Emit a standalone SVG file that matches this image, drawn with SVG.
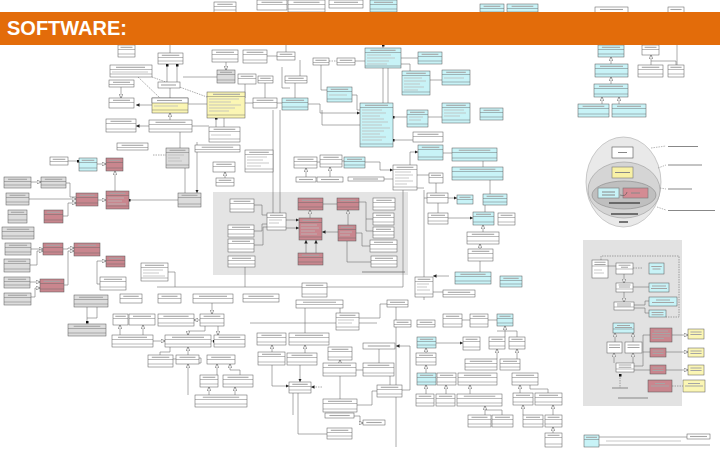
<svg xmlns="http://www.w3.org/2000/svg" width="720" height="450" viewBox="0 0 720 450">
<style>
.w{fill:#fff;stroke:#555;stroke-width:.5}
.c{fill:#c8f3f7;stroke:#555;stroke-width:.5}
.p{fill:#c9868e;stroke:#555;stroke-width:.5}
.y{fill:#fbf6b4;stroke:#555;stroke-width:.5}
.g{fill:#dcdcdc;stroke:#555;stroke-width:.5}
.h{fill:none;stroke:#666;stroke-width:.45}
.t{fill:none;stroke:#a5a5a5;stroke-width:1.1}
.r{fill:none;stroke:#bbb;stroke-width:.8}
#conn path{fill:none;stroke:#666;stroke-width:.55}
#conn .ds{stroke-dasharray:1.5 1}
.lead{fill:none;stroke:#888;stroke-width:.6;stroke-dasharray:1.5 1}
.lbl{fill:none;stroke:#888;stroke-width:1}
.dk{fill:none;stroke:#444;stroke-width:1.4}
</style>
<defs>
<marker id="tri" viewBox="0 0 6 6" refX="6" refY="3" markerWidth="4" markerHeight="4" orient="auto" markerUnits="userSpaceOnUse"><path d="M0 0L6 3L0 6z" fill="#fff" stroke="#555" stroke-width=".8"/></marker>
<marker id="dia" viewBox="0 0 6 6" refX="3" refY="3" markerWidth="3" markerHeight="3" orient="auto" markerUnits="userSpaceOnUse"><path d="M0 0H6V6H0z" fill="#111"/></marker>
<marker id="arr" viewBox="0 0 6 6" refX="6" refY="3" markerWidth="3.5" markerHeight="3.5" orient="auto" markerUnits="userSpaceOnUse"><path d="M0 0L6 3L0 6z" fill="#222"/></marker>
</defs>
<rect width="720" height="450" fill="#fff"/>

<!-- package backgrounds -->
<rect id="pkgCore" x="213" y="192" width="195" height="83" fill="#e4e4e4"/>
<path class="lbl" d="M362 272H405"/>
<rect id="pkgRight" x="583" y="240" width="99" height="166" fill="#e2e2e2"/>
<path class="lbl" d="M618 398H648"/>

<!-- layered circle -->
<g id="layers">
<ellipse cx="623.5" cy="182" rx="37.5" ry="45" fill="#e9e9e9" stroke="#aaa" stroke-width=".6"/>
<ellipse cx="624" cy="190" rx="36" ry="28" fill="#d5d5d5" stroke="#999" stroke-width=".6"/>
<ellipse cx="624" cy="195" rx="32" ry="14" fill="#bfbfbf" stroke="#888" stroke-width=".6"/>
<rect x="612" y="147" width="21" height="11" fill="#fff" stroke="#555" stroke-width=".6"/>
<path class="lbl" d="M618 152.5h9"/>
<rect x="612" y="167" width="21" height="11" fill="#f8f1a6" stroke="#777" stroke-width=".6"/>
<path class="lbl" d="M615 172.5h15"/>
<rect x="598" y="188" width="21" height="10" fill="#c8f3f7" stroke="#777" stroke-width=".6"/>
<path class="lbl" d="M602 192h13M602 195h13"/>
<rect x="623" y="188" width="25" height="10" fill="#d48b93" stroke="#777" stroke-width=".6"/>
<path class="lbl" d="M631 193h9"/>
<path fill="none" stroke="#555" stroke-width=".6" d="M627 192Q626 197 620 195"/>
<path class="dk" d="M609 203h31"/>
<path class="dk" d="M611 214h27"/>
<path class="dk" d="M619 222h9"/>
<path class="lead" d="M651 148L666 146M658 168L666 165M660 188L666 189M657 207L666 210"/>
<path class="lbl" d="M668 146.5h30M668 165h34M668 189h24M668 210.5h47"/>
</g>

<!-- connectors -->
<g id="conn">
<path d="M167 65V82" marker-start="url(#dia)"/>
<path d="M177 65V82" marker-start="url(#dia)"/>
<path d="M170 88V98"/>
<path d="M183 77H217"/>
<path d="M226 62V70" marker-end="url(#tri)"/>
<path class="ds" d="M152 77L207 97"/>
<path class="ds" d="M138 77L160 98"/>
<path d="M121 87V98" marker-end="url(#tri)"/>
<path d="M152 105H136" marker-end="url(#arr)"/>
<path d="M149 126H136" marker-end="url(#arr)"/>
<path d="M188 104H207"/>
<path d="M170 120V113" marker-end="url(#tri)"/>
<path d="M216 118V127" marker-start="url(#dia)"/>
<path d="M224 118V127"/>
<path d="M240 103H253"/>
<path d="M192 126H209"/>
<path d="M180 132V148"/>
<path d="M197 142V193" marker-end="url(#arr)"/>
<path d="M170 53V45"/>
<path d="M286 52V45"/>
<path d="M383 48V45" marker-end="url(#dia)"/>
<path d="M267 56H277"/>
<path d="M300 60V76"/>
<path class="ds" d="M329 61H337"/>
<path d="M355 61H365"/>
<path d="M401 58H418"/>
<path d="M401 64H410V71"/>
<path d="M383 68V103"/>
<path d="M388 68V103"/>
<path d="M430 80H442"/>
<path d="M352 95H357V110H360"/>
<path d="M308 104H320V113H360" marker-end="url(#arr)"/>
<path d="M277 103H282"/>
<path d="M393 117H407" marker-start="url(#dia)"/>
<path d="M428 117H442"/>
<path d="M393 140H413" marker-start="url(#dia)"/>
<path d="M245 84V98"/>
<path d="M265 83V98"/>
<path d="M295 83V98"/>
<path d="M321 65V90H327"/>
<path d="M282 67V88H290"/>
<path d="M322 110V125H360"/>
<path d="M273 110V213"/>
<path d="M280 110V213"/>
<path d="M611 64V57" marker-end="url(#tri)"/>
<path d="M611 84V77" marker-end="url(#tri)"/>
<path d="M602 104V97" marker-end="url(#tri)"/>
<path d="M619 104V97" marker-end="url(#tri)"/>
<path d="M651 65V55" marker-end="url(#tri)"/>
<path d="M651 61H676V65"/>
<path d="M677 10V65"/>
<path d="M68 161H78" marker-end="url(#dia)"/>
<path d="M97 164H106" marker-end="url(#tri)"/>
<path d="M115 191V171" marker-end="url(#tri)"/>
<path d="M31 182H41" marker-end="url(#tri)"/>
<path d="M66 183H70V197H76"/>
<path d="M29 199H76" marker-end="url(#tri)"/>
<path d="M63 216H68V203H76" marker-end="url(#tri)"/>
<path d="M98 200H106" marker-end="url(#tri)"/>
<path d="M178 200H129" marker-end="url(#dia)"/>
<path d="M185 168V193"/>
<path d="M225 178V172" marker-end="url(#tri)"/>
<path class="ds" d="M153 155H166"/>
<path d="M31 249H43" marker-end="url(#tri)"/>
<path d="M30 265H37V251H43" marker-end="url(#tri)"/>
<path d="M63 249H68V248H74" marker-end="url(#tri)"/>
<path d="M64 285H68V251H74" marker-end="url(#tri)"/>
<path d="M30 282H40" marker-end="url(#tri)"/>
<path d="M31 297H35V288H40" marker-end="url(#tri)"/>
<path d="M100 284H97V261H106" marker-end="url(#tri)"/>
<path d="M168 272H175V287"/>
<path d="M157 287H403V190"/>
<path d="M254 205H262V215H267"/>
<path d="M286 220H299" marker-end="url(#arr)"/>
<path d="M286 228H299" marker-end="url(#arr)"/>
<path d="M310 218V210" marker-end="url(#tri)"/>
<path d="M323 204H337"/>
<path d="M348 225V210" marker-end="url(#tri)"/>
<path d="M338 232H322" marker-end="url(#arr)"/>
<path d="M306 253V240" marker-end="url(#arr)"/>
<path d="M316 253V240" marker-end="url(#arr)"/>
<path d="M359 202H366V231H373"/>
<path d="M366 219H373"/>
<path d="M356 233H362V246H370"/>
<path d="M347 241V262H371"/>
<path d="M254 231H262V224H267"/>
<path d="M254 245H263V227H267"/>
<path d="M245 267V287"/>
<path d="M417 175H429"/>
<path d="M436 183V193"/>
<path d="M448 198H457" marker-end="url(#arr)"/>
<path d="M438 203V213"/>
<path d="M424 190V300"/>
<path d="M365 162H380V170H393" marker-end="url(#arr)"/>
<path d="M342 161H344M317 162H320"/>
<path d="M306 177V168" marker-end="url(#tri)"/>
<path d="M330 177V167" marker-end="url(#tri)"/>
<path d="M384 179H393"/>
<path d="M449 276H433" marker-end="url(#arr)"/>
<path d="M433 292H443"/>
<path d="M410 165V152H418" marker-end="url(#arr)"/>
<path d="M417 188H424"/>
<path d="M443 153H452"/>
<path d="M483 161V167"/>
<path d="M490 180V194"/>
<path d="M485 205V212"/>
<path d="M448 218H473" marker-end="url(#arr)"/>
<path d="M483 232V225" marker-end="url(#tri)"/>
<path d="M480 249V244" marker-end="url(#tri)"/>
<path d="M480 261V272"/>
<path d="M427 198H424"/>
<path d="M87 307V322" marker-end="url(#dia)"/>
<path d="M97 307V318H87"/>
<path d="M120 335V325" marker-end="url(#tri)"/>
<path d="M143 335V325" marker-end="url(#tri)"/>
<path d="M153 341H165" marker-end="url(#tri)"/>
<path d="M211 341H214" marker-end="url(#dia)"/>
<path d="M212 303V314" marker-end="url(#tri)"/>
<path d="M200 320H194" marker-end="url(#tri)"/>
<path d="M205 326V331H188V335" marker-end="url(#tri)"/>
<path d="M218 326V335" marker-end="url(#tri)"/>
<path d="M188 355V347" marker-end="url(#tri)"/>
<path d="M170 347V352H160V355"/>
<path d="M217 375V364" marker-end="url(#tri)"/>
<path d="M240 375V370H230V364" marker-end="url(#tri)"/>
<path d="M188 395V364" marker-end="url(#tri)"/>
<path d="M209 395V387" marker-end="url(#tri)"/>
<path d="M235 395V387" marker-end="url(#tri)"/>
<path d="M199 358H201V363H199"/>
<path d="M176 359H173"/>
<path d="M250 323H377"/>
<path d="M305 308V333"/>
<path d="M340 308V313"/>
<path d="M272 352V345" marker-end="url(#tri)"/>
<path d="M305 353V345" marker-end="url(#tri)"/>
<path d="M272 365V386H289" marker-end="url(#arr)"/>
<path d="M300 365V382" marker-end="url(#arr)"/>
<path class="ds" d="M322 387H311" marker-end="url(#arr)"/>
<path d="M293 393V415"/>
<path d="M298 393V434H327"/>
<path d="M340 363V360" marker-end="url(#tri)"/>
<path d="M356 370H363"/>
<path d="M340 376V399"/>
<path d="M357 405H372V391H377"/>
<path d="M390 376V385"/>
<path d="M402 390H410V346H396" marker-end="url(#arr)"/>
<path d="M354 416H360V423H363" marker-end="url(#tri)"/>
<path d="M379 349V363"/>
<path d="M426 353V348" marker-end="url(#tri)"/>
<path d="M426 373V365" marker-end="url(#tri)"/>
<path d="M436 343H463" marker-end="url(#arr)"/>
<path d="M426 394V385" marker-end="url(#tri)"/>
<path d="M446 394V385" marker-end="url(#tri)"/>
<path d="M470 394V385" marker-end="url(#tri)"/>
<path d="M505 337V326" marker-end="url(#tri)"/>
<path d="M497 331H517V337"/>
<path d="M497 359V349" marker-end="url(#tri)"/>
<path d="M517 359V349" marker-end="url(#tri)"/>
<path d="M520 393V385" marker-end="url(#tri)"/>
<path d="M548 393V389H530V385"/>
<path d="M485 415V406" marker-end="url(#tri)"/>
<path d="M502 415V410H485"/>
<path d="M523 415V405" marker-end="url(#tri)"/>
<path d="M553 415V405" marker-end="url(#tri)"/>
<path d="M553 433V427" marker-end="url(#tri)"/>
<path d="M462 320H470"/>
<path d="M488 320H497"/>
<path d="M396 300V447"/>
<path d="M359 318H380V304H387"/>
<path d="M599 437H687M599 445H710"/>
<path class="ds" d="M601 260V256H679V317H666"/>
<path d="M608 266H616"/>
<path d="M624 274V283" marker-end="url(#tri)"/>
<path d="M624 292V302" marker-end="url(#tri)"/>
<path class="ds" d="M633 268H643"/>
<path d="M633 287H649"/>
<path d="M634 305H645V301H649"/>
<path d="M634 308H645V313H649"/>
<path d="M615 342V333" marker-end="url(#tri)"/>
<path d="M633 342V333" marker-end="url(#tri)"/>
<path d="M614 363V353" marker-end="url(#tri)"/>
<path d="M633 363V353" marker-end="url(#tri)"/>
<path d="M634 366H643V335H650"/>
<path d="M643 352H650"/>
<path d="M634 370H650"/>
<path d="M672 335H688" marker-end="url(#tri)"/>
<path d="M666 352H688" marker-end="url(#tri)"/>
<path d="M666 370H688" marker-end="url(#tri)"/>
<path class="ds" d="M672 386H683"/>
<path class="ds" d="M620 375V388" marker-start="url(#dia)"/>
</g>

<!-- class boxes -->
<g id="n1"><rect class="w" x="214" y="2" width="22" height="11"/><path class="h" d="M214 6.5h22M214 10h22"/><path class="t" d="M217.3 4.3h15.4"/></g>
<g id="n2"><rect class="w" x="257" y="0" width="30" height="10"/><path class="h" d="M257 4.5h30"/><path class="t" d="M261.5 2.3h21"/></g>
<g id="n3"><rect class="w" x="288" y="0" width="37" height="12"/><path class="h" d="M288 4.5h37M288 9h37"/><path class="t" d="M293.5 2.3h26"/></g>
<g id="n4"><rect class="w" x="329" y="0" width="34" height="8"/><path class="h" d="M329 4.5h34"/><path class="t" d="M334 2.3h24"/></g>
<g id="n5"><rect class="c" x="370" y="0" width="27" height="12"/><path class="h" d="M370 4.5h27M370 9h27"/><path class="t" d="M374 2.3h19"/></g>
<g id="n6"><rect class="c" x="480" y="4" width="24" height="8"/><path class="h" d="M480 8.5h24"/><path class="t" d="M483.6 6.3h16.8"/></g>
<g id="n7"><rect class="c" x="507" y="4" width="31" height="8"/><path class="h" d="M507 8.5h31"/><path class="t" d="M511.6 6.3h21.7"/></g>
<g id="n8"><rect class="w" x="595" y="7" width="33" height="7"/><path class="t" d="M600 9.5h23"/></g>
<g id="n9"><rect class="w" x="668" y="7" width="16" height="7"/><path class="t" d="M670.4 9.5h11.2"/></g>
<g id="n10"><rect class="w" x="118" y="45" width="17" height="12"/><path class="h" d="M118 49.5h17M118 54h17"/><path class="t" d="M120.5 47.3h12"/></g>
<g id="n11"><rect class="w" x="158" y="53" width="25" height="11"/><path class="h" d="M158 57.5h25M158 61h25"/><path class="t" d="M161.8 55.3h17.5"/></g>
<g id="n12"><rect class="w" x="212" y="50" width="26" height="12"/><path class="h" d="M212 54.5h26M212 59h26"/><path class="t" d="M216 52.3h18"/></g>
<g id="n13"><rect class="w" x="110" y="65" width="42" height="12"/><path class="h" d="M110 69.5h42M110 74h42"/><path class="t" d="M116 67.3h29"/><path class="r" d="M112 72h36"/></g>
<g id="n14"><rect class="g" x="217" y="70" width="18" height="13"/><path class="h" d="M217 74.5h18M217 80h18"/><path class="t" d="M220 72.3h12"/></g>
<g id="n15"><rect class="w" x="158" y="82" width="22" height="6"/><path class="t" d="M161 85h15"/></g>
<g id="n16"><rect class="w" x="109" y="80" width="25" height="7"/><path class="h" d="M109 84.5h25"/><path class="t" d="M113 82.3h17"/></g>
<g id="n17"><rect class="w" x="109" y="98" width="25" height="10"/><path class="h" d="M109 102.5h25"/><path class="t" d="M113 100.3h17"/></g>
<g id="n18"><rect class="y" x="152" y="98" width="36" height="15"/><rect class="w" x="152" y="98" width="36" height="5"/><path class="h" d="M152 110h36"/><path class="t" d="M157 100.5h25"/><path class="r" d="M154 106h24"/></g>
<g id="n19"><rect class="y" x="207" y="92" width="38" height="26"/><path class="h" d="M207 96.5h38M207 115h38"/><path class="t" d="M213 94.3h27"/><path class="r" d="M209 99h30M209 102h22M209 105h32M209 108h26M209 111h20"/></g>
<g id="n20"><rect class="w" x="106" y="119" width="30" height="13"/><path class="h" d="M106 123.5h30M106 129h30"/><path class="t" d="M110.5 121.3h21"/></g>
<g id="n21"><rect class="w" x="149" y="120" width="43" height="12"/><path class="h" d="M149 124.5h43M149 129h43"/><path class="t" d="M155.5 122.3h30"/></g>
<g id="n22"><rect class="w" x="209" y="127" width="31" height="15"/><path class="h" d="M209 131.5h31M209 139h31"/><path class="t" d="M213.6 129.3h21.7"/><path class="r" d="M211 135h20"/></g>
<g id="n23"><rect class="w" x="117" y="143" width="31" height="7"/><path class="h" d="M117 147.5h31"/><path class="t" d="M121.6 145.3h21.7"/></g>
<g id="n24"><rect class="w" x="195" y="145" width="45" height="7"/><path class="h" d="M195 149.5h45"/><path class="t" d="M201.7 147.3h31.5"/></g>
<g id="n25"><rect class="w" x="243" y="50" width="24" height="13"/><path class="h" d="M243 54.5h24M243 60h24"/><path class="t" d="M246.6 52.3h16.8"/></g>
<g id="n26"><rect class="w" x="277" y="52" width="18" height="8"/><path class="h" d="M277 56.5h18"/><path class="t" d="M279.7 54.3h12.6"/></g>
<g id="n27"><rect class="w" x="313" y="58" width="16" height="7"/><path class="h" d="M313 62.5h16"/><path class="t" d="M315.4 60.3h11.2"/></g>
<g id="n28"><rect class="w" x="337" y="58" width="18" height="7"/><path class="h" d="M337 62.5h18"/><path class="t" d="M339.7 60.3h12.6"/></g>
<g id="n29"><rect class="c" x="365" y="48" width="36" height="20"/><path class="h" d="M365 52.5h36M365 66h36"/><path class="t" d="M370.4 50.3h25.2"/><path class="r" d="M367 55h24M367 58h28M367 61h22M367 64h20"/></g>
<g id="n30"><rect class="c" x="418" y="52" width="24" height="12"/><path class="h" d="M418 56.5h24M418 61h24"/><path class="t" d="M421.6 54.3h16.8"/></g>
<g id="n31"><rect class="w" x="238" y="74" width="18" height="10"/><path class="h" d="M238 78.5h18"/><path class="t" d="M240.7 76.3h12.6"/></g>
<g id="n32"><rect class="w" x="258" y="76" width="15" height="7"/><path class="h" d="M258 80.5h15"/><path class="t" d="M260.2 78.3h10.5"/></g>
<g id="n33"><rect class="w" x="285" y="76" width="22" height="7"/><path class="h" d="M285 80.5h22"/><path class="t" d="M288.3 78.3h15.4"/></g>
<g id="n34"><rect class="c" x="402" y="71" width="28" height="24"/><path class="h" d="M402 75.5h28M402 92h28"/><path class="t" d="M406.2 73.3h19.6"/><path class="r" d="M404 78h18M404 81h22M404 84h16M404 87h20M404 90h14"/></g>
<g id="n35"><rect class="c" x="442" y="70" width="28" height="15"/><path class="h" d="M442 74.5h28M442 82h28"/><path class="t" d="M446.2 72.3h19.6"/><path class="r" d="M444 78h20"/></g>
<g id="n36"><rect class="c" x="327" y="87" width="25" height="15"/><path class="h" d="M327 91.5h25M327 99h25"/><path class="t" d="M330.7 89.3h17.5"/><path class="r" d="M329 95h18"/></g>
<g id="n37"><rect class="w" x="253" y="98" width="24" height="10"/><path class="h" d="M253 102.5h24"/><path class="t" d="M256.6 100.3h16.8"/></g>
<g id="n38"><rect class="c" x="282" y="98" width="26" height="12"/><path class="h" d="M282 102.5h26M282 107h26"/><path class="t" d="M285.9 100.3h18.2"/></g>
<g id="n39"><rect class="c" x="360" y="103" width="33" height="44"/><path class="h" d="M360 107.5h33M360 144h33"/><path class="t" d="M365 105.3h23"/><path class="r" d="M362 110h20M362 113h24M362 116h18M362 119h22M362 122h26M362 125h20M362 128h28M362 131h22M362 134h18M362 137h24M362 140h20"/></g>
<g id="n40"><rect class="c" x="407" y="110" width="21" height="17"/><path class="h" d="M407 114.5h21M407 124h21"/><path class="t" d="M410 112.3h14.7"/><path class="r" d="M409 117h14M409 120h12"/></g>
<g id="n41"><rect class="c" x="442" y="103" width="28" height="20"/><path class="h" d="M442 107.5h28M442 120h28"/><path class="t" d="M446.2 105.3h19.6"/><path class="r" d="M444 110h20M444 113h22M444 116h16"/></g>
<g id="n42"><rect class="w" x="413" y="132" width="30" height="10"/><path class="h" d="M413 136.5h30"/><path class="t" d="M417.5 134.3h21"/></g>
<g id="n43"><rect class="c" x="418" y="145" width="25" height="15"/><path class="h" d="M418 149.5h25M418 157h25"/><path class="t" d="M421.8 147.3h17.5"/></g>
<g id="n44"><rect class="c" x="452" y="148" width="45" height="13"/><path class="h" d="M452 152.5h45M452 158h45"/><path class="t" d="M458.8 150.3h31.5"/></g>
<g id="n45"><rect class="c" x="452" y="167" width="51" height="13"/><path class="h" d="M452 171.5h51M452 177h51"/><path class="t" d="M459.7 169.3h35.7"/></g>
<g id="n46"><rect class="c" x="598" y="45" width="26" height="12"/><path class="h" d="M598 49.5h26M598 54h26"/><path class="t" d="M601.9 47.3h18.2"/></g>
<g id="n47"><rect class="w" x="642" y="45" width="17" height="10"/><path class="h" d="M642 49.5h17"/><path class="t" d="M644.6 47.3h11.9"/></g>
<g id="n48"><rect class="c" x="595" y="64" width="33" height="13"/><path class="h" d="M595 68.5h33M595 74h33"/><path class="t" d="M600 66.3h23"/></g>
<g id="n49"><rect class="w" x="638" y="65" width="25" height="12"/><path class="h" d="M638 69.5h25M638 74h25"/><path class="t" d="M641.8 67.3h17.5"/></g>
<g id="n50"><rect class="w" x="668" y="65" width="16" height="12"/><path class="h" d="M668 69.5h16M668 74h16"/><path class="t" d="M670.4 67.3h11.2"/></g>
<g id="n51"><rect class="c" x="594" y="84" width="34" height="13"/><path class="h" d="M594 88.5h34M594 94h34"/><path class="t" d="M599 86.3h24"/></g>
<g id="n52"><rect class="c" x="578" y="104" width="31" height="13"/><path class="h" d="M578 108.5h31M578 114h31"/><path class="t" d="M582.6 106.3h21.7"/></g>
<g id="n53"><rect class="c" x="612" y="104" width="34" height="13"/><path class="h" d="M612 108.5h34M612 114h34"/><path class="t" d="M617 106.3h24"/></g>
<g id="n54"><rect class="c" x="480" y="108" width="23" height="12"/><path class="h" d="M480 112.5h23M480 117h23"/><path class="t" d="M483.5 110.3h16"/></g>
<g id="n55"><rect class="w" x="50" y="157" width="18" height="8"/><path class="h" d="M50 161.5h18"/><path class="t" d="M52.7 159.3h12.6"/></g>
<g id="n56"><rect class="c" x="79" y="158" width="18" height="13"/><path class="h" d="M79 162.5h18M79 168h18"/><path class="t" d="M81.7 160.3h12.6"/></g>
<g id="n57"><rect class="p" x="106" y="158" width="17" height="13"/><path class="h" d="M106 162.5h17M106 168h17"/><path class="t" d="M108.6 160.3h11.9"/></g>
<g id="n58"><rect class="g" x="166" y="148" width="23" height="20"/><path class="h" d="M166 152.5h23M166 165h23"/><path class="t" d="M169.5 150.3h16"/><path class="r" d="M168 155h16M168 158h12M168 161h14"/></g>
<g id="n59"><rect class="w" x="213" y="162" width="22" height="10"/><path class="h" d="M213 166.5h22"/><path class="t" d="M216.3 164.3h15.4"/></g>
<g id="n60"><rect class="w" x="216" y="178" width="18" height="8"/><path class="h" d="M216 182.5h18"/><path class="t" d="M218.7 180.3h12.6"/></g>
<g id="n61"><rect class="g" x="4" y="177" width="27" height="11"/><path class="h" d="M4 181.5h27M4 185h27"/><path class="t" d="M8 179.3h19"/></g>
<g id="n62"><rect class="g" x="41" y="177" width="25" height="11"/><path class="h" d="M41 181.5h25M41 185h25"/><path class="t" d="M44.8 179.3h17.5"/></g>
<g id="n63"><rect class="g" x="6" y="193" width="23" height="12"/><path class="h" d="M6 197.5h23M6 202h23"/><path class="t" d="M9.5 195.3h16"/></g>
<g id="n64"><rect class="p" x="76" y="193" width="22" height="13"/><path class="h" d="M76 197.5h22M76 203h22"/><path class="t" d="M79.3 195.3h15.4"/></g>
<g id="n65"><rect class="p" x="106" y="191" width="23" height="18"/><path class="h" d="M106 195.5h23M106 206h23"/><path class="t" d="M109.5 193.3h16"/><path class="r" d="M108 198h16M108 201h14M108 204h18"/></g>
<g id="n66"><rect class="g" x="178" y="193" width="23" height="14"/><path class="h" d="M178 197.5h23M178 204h23"/><path class="t" d="M181.5 195.3h16"/></g>
<g id="n67"><rect class="g" x="8" y="210" width="19" height="13"/><path class="h" d="M8 214.5h19M8 220h19"/><path class="t" d="M10.9 212.3h13.3"/></g>
<g id="n68"><rect class="p" x="44" y="210" width="19" height="13"/><path class="h" d="M44 214.5h19M44 220h19"/><path class="t" d="M46.9 212.3h13.3"/></g>
<g id="n69"><rect class="g" x="2" y="227" width="32" height="12"/><path class="h" d="M2 231.5h32M2 236h32"/><path class="t" d="M6.8 229.3h22.4"/></g>
<g id="n70"><rect class="g" x="5" y="243" width="26" height="12"/><path class="h" d="M5 247.5h26M5 252h26"/><path class="t" d="M8.9 245.3h18.2"/></g>
<g id="n71"><rect class="p" x="43" y="243" width="20" height="12"/><path class="h" d="M43 247.5h20M43 252h20"/><path class="t" d="M46 245.3h14"/></g>
<g id="n72"><rect class="p" x="74" y="243" width="26" height="13"/><path class="h" d="M74 247.5h26M74 253h26"/><path class="t" d="M77.9 245.3h18.2"/></g>
<g id="n73"><rect class="g" x="4" y="259" width="26" height="13"/><path class="h" d="M4 263.5h26M4 269h26"/><path class="t" d="M7.9 261.3h18.2"/></g>
<g id="n74"><rect class="p" x="106" y="256" width="19" height="11"/><path class="h" d="M106 260.5h19M106 264h19"/><path class="t" d="M108.9 258.3h13.3"/></g>
<g id="n75"><rect class="w" x="141" y="263" width="27" height="18"/><path class="h" d="M141 267.5h27M141 278h27"/><path class="t" d="M145 265.3h19"/><path class="r" d="M143 270h20M143 273h16M143 276h22"/></g>
<g id="n76"><rect class="w" x="100" y="277" width="26" height="13"/><path class="h" d="M100 281.5h26M100 287h26"/><path class="t" d="M103.9 279.3h18.2"/></g>
<g id="n77"><rect class="g" x="4" y="277" width="26" height="11"/><path class="h" d="M4 281.5h26M4 285h26"/><path class="t" d="M7.9 279.3h18.2"/></g>
<g id="n78"><rect class="p" x="40" y="279" width="24" height="13"/><path class="h" d="M40 283.5h24M40 289h24"/><path class="t" d="M43.6 281.3h16.8"/></g>
<g id="n79"><rect class="g" x="4" y="293" width="27" height="12"/><path class="h" d="M4 297.5h27M4 302h27"/><path class="t" d="M8 295.3h19"/></g>
<g id="n80"><rect class="g" x="74" y="295" width="34" height="12"/><path class="h" d="M74 299.5h34M74 304h34"/><path class="t" d="M79 297.3h24"/></g>
<g id="n81"><rect class="w" x="120" y="294" width="22" height="9"/><path class="h" d="M120 298.5h22"/><path class="t" d="M123.3 296.3h15.4"/></g>
<g id="n82"><rect class="w" x="158" y="294" width="23" height="9"/><path class="h" d="M158 298.5h23"/><path class="t" d="M161.5 296.3h16"/></g>
<g id="n83"><rect class="w" x="193" y="294" width="40" height="9"/><path class="h" d="M193 298.5h40"/><path class="t" d="M199 296.3h28"/></g>
<g id="n84"><rect class="w" x="230" y="199" width="24" height="13"/><path class="h" d="M230 203.5h24M230 209h24"/><path class="t" d="M233.6 201.3h16.8"/></g>
<g id="n85"><rect class="w" x="267" y="213" width="19" height="17"/><path class="h" d="M267 217.5h19M267 227h19"/><path class="t" d="M269.9 215.3h13.3"/><path class="r" d="M269 220h13M269 223h10"/></g>
<g id="n86"><rect class="p" x="298" y="198" width="25" height="12"/><path class="h" d="M298 202.5h25M298 207h25"/><path class="t" d="M301.8 200.3h17.5"/></g>
<g id="n87"><rect class="p" x="299" y="218" width="23" height="22"/><path class="h" d="M299 222.5h23M299 237h23"/><path class="t" d="M302.5 220.3h16"/><path class="r" d="M301 225h16M301 228h18M301 231h14M301 234h16"/></g>
<g id="n88"><rect class="p" x="337" y="198" width="22" height="12"/><path class="h" d="M337 202.5h22M337 207h22"/><path class="t" d="M340.3 200.3h15.4"/></g>
<g id="n89"><rect class="p" x="338" y="225" width="18" height="16"/><path class="h" d="M338 229.5h18M338 238h18"/><path class="t" d="M340.7 227.3h12.6"/><path class="r" d="M340 232h12M340 235h10"/></g>
<g id="n90"><rect class="p" x="298" y="253" width="25" height="12"/><path class="h" d="M298 257.5h25M298 262h25"/><path class="t" d="M301.8 255.3h17.5"/></g>
<g id="n91"><rect class="w" x="373" y="198" width="22" height="12"/><path class="h" d="M373 202.5h22M373 207h22"/><path class="t" d="M376.3 200.3h15.4"/></g>
<g id="n92"><rect class="w" x="373" y="213" width="21" height="12"/><path class="h" d="M373 217.5h21M373 222h21"/><path class="t" d="M376 215.3h15"/></g>
<g id="n93"><rect class="w" x="373" y="227" width="21" height="11"/><path class="h" d="M373 231.5h21M373 235h21"/><path class="t" d="M376 229.3h15"/></g>
<g id="n94"><rect class="w" x="370" y="240" width="27" height="12"/><path class="h" d="M370 244.5h27M370 249h27"/><path class="t" d="M374 242.3h19"/></g>
<g id="n95"><rect class="w" x="371" y="256" width="26" height="11"/><path class="h" d="M371 260.5h26M371 264h26"/><path class="t" d="M375 258.3h18"/></g>
<g id="n96"><rect class="w" x="228" y="225" width="26" height="12"/><path class="h" d="M228 229.5h26M228 234h26"/><path class="t" d="M232 227.3h18"/></g>
<g id="n97"><rect class="w" x="228" y="239" width="26" height="13"/><path class="h" d="M228 243.5h26M228 249h26"/><path class="t" d="M232 241.3h18"/></g>
<g id="n98"><rect class="w" x="228" y="256" width="27" height="11"/><path class="h" d="M228 260.5h27M228 264h27"/><path class="t" d="M232 258.3h19"/></g>
<g id="n99"><rect class="w" x="245" y="150" width="28" height="22"/><path class="h" d="M245 154.5h28M245 169h28"/><path class="t" d="M249.2 152.3h19.6"/><path class="r" d="M247 157h20M247 160h16M247 163h22M247 166h14"/></g>
<g id="n100"><rect class="w" x="294" y="157" width="23" height="11"/><path class="h" d="M294 161.5h23M294 165h23"/><path class="t" d="M297.5 159.3h16"/></g>
<g id="n101"><rect class="w" x="320" y="155" width="22" height="12"/><path class="h" d="M320 159.5h22M320 164h22"/><path class="t" d="M323.3 157.3h15.4"/></g>
<g id="n102"><rect class="c" x="344" y="157" width="21" height="11"/><path class="h" d="M344 161.5h21M344 165h21"/><path class="t" d="M347 159.3h15"/></g>
<g id="n103"><rect class="w" x="296" y="177" width="20" height="5"/><path class="t" d="M299 179.5h14"/></g>
<g id="n104"><rect class="w" x="317" y="177" width="26" height="5"/><path class="t" d="M321 179.5h18"/></g>
<g id="n105"><rect class="w" x="348" y="177" width="36" height="4"/><path class="t" d="M353 179h25"/></g>
<g id="n106"><rect class="w" x="393" y="165" width="24" height="25"/><path class="h" d="M393 169.5h24M393 187h24"/><path class="t" d="M396.6 167.3h16.8"/><path class="r" d="M395 172h16M395 175h18M395 178h14M395 181h18M395 184h12"/></g>
<g id="n107"><rect class="w" x="429" y="173" width="14" height="10"/><path class="h" d="M429 177.5h14"/><path class="t" d="M431 175.3h10"/></g>
<g id="n108"><rect class="w" x="427" y="193" width="21" height="10"/><path class="h" d="M427 197.5h21"/><path class="t" d="M430 195.3h15"/></g>
<g id="n109"><rect class="c" x="457" y="195" width="16" height="9"/><path class="h" d="M457 199.5h16"/><path class="t" d="M459.4 197.3h11.2"/></g>
<g id="n110"><rect class="w" x="428" y="213" width="20" height="11"/><path class="h" d="M428 217.5h20M428 221h20"/><path class="t" d="M431 215.3h14"/></g>
<g id="n111"><rect class="c" x="473" y="212" width="21" height="13"/><path class="h" d="M473 216.5h21M473 222h21"/><path class="t" d="M476 214.3h15"/></g>
<g id="n112"><rect class="w" x="498" y="213" width="17" height="12"/><path class="h" d="M498 217.5h17M498 222h17"/><path class="t" d="M500.6 215.3h11.9"/></g>
<g id="n113"><rect class="c" x="483" y="194" width="24" height="11"/><path class="h" d="M483 198.5h24M483 202h24"/><path class="t" d="M486.6 196.3h16.8"/></g>
<g id="n114"><rect class="w" x="467" y="232" width="32" height="12"/><path class="h" d="M467 236.5h32M467 241h32"/><path class="t" d="M471.8 234.3h22.4"/></g>
<g id="n115"><rect class="w" x="468" y="249" width="25" height="12"/><path class="h" d="M468 253.5h25M468 258h25"/><path class="t" d="M471.8 251.3h17.5"/></g>
<g id="n116"><rect class="c" x="455" y="272" width="36" height="12"/><path class="h" d="M455 276.5h36M455 281h36"/><path class="t" d="M460.4 274.3h25.2"/></g>
<g id="n116b"><rect class="c" x="500" y="276" width="22" height="11"/><path class="h" d="M500 280.5h22M500 284h22"/><path class="t" d="M503.3 278.3h15.4"/></g>
<g id="n117"><rect class="w" x="415" y="277" width="18" height="20"/><path class="h" d="M415 281.5h18M415 294h18"/><path class="t" d="M417.7 279.3h12.6"/><path class="r" d="M417 284h12M417 287h10M417 290h13"/></g>
<g id="n118"><rect class="w" x="443" y="290" width="32" height="7"/><path class="h" d="M443 294.5h32"/><path class="t" d="M447.8 292.3h22.4"/></g>
<g id="n119"><rect class="w" x="302" y="283" width="25" height="14"/><path class="h" d="M302 287.5h25M302 294h25"/><path class="t" d="M305.8 285.3h17.5"/></g>
<g id="n120"><rect class="w" x="243" y="294" width="36" height="8"/><path class="h" d="M243 298.5h36"/><path class="t" d="M248.4 296.3h25.2"/></g>
<g id="n122"><rect class="g" x="68" y="324" width="38" height="12"/><path class="h" d="M68 328.5h38M68 333h38"/><path class="t" d="M73.7 326.3h26.6"/></g>
<g id="n123"><rect class="w" x="113" y="314" width="15" height="11"/><path class="h" d="M113 318.5h15"/><path class="t" d="M115.3 316.3h10.5"/></g>
<g id="n124"><rect class="w" x="129" y="314" width="26" height="11"/><path class="h" d="M129 318.5h26"/><path class="t" d="M133 316.3h18"/></g>
<g id="n125"><rect class="w" x="158" y="314" width="36" height="12"/><path class="h" d="M158 318.5h36M158 323h36"/><path class="t" d="M163.4 316.3h25.2"/></g>
<g id="n126"><rect class="w" x="200" y="314" width="24" height="12"/><path class="h" d="M200 318.5h24M200 323h24"/><path class="t" d="M203.6 316.3h16.8"/></g>
<g id="n127"><rect class="w" x="112" y="335" width="41" height="12"/><path class="h" d="M112 339.5h41M112 344h41"/><path class="t" d="M118 337.3h29"/></g>
<g id="n128"><rect class="w" x="165" y="335" width="46" height="12"/><path class="h" d="M165 339.5h46M165 344h46"/><path class="t" d="M172 337.3h32"/></g>
<g id="n129"><rect class="w" x="214" y="335" width="31" height="12"/><path class="h" d="M214 339.5h31M214 344h31"/><path class="t" d="M218.6 337.3h21.7"/></g>
<g id="n130"><rect class="w" x="148" y="355" width="25" height="12"/><path class="h" d="M148 359.5h25M148 364h25"/><path class="t" d="M151.8 357.3h17.5"/></g>
<g id="n131"><rect class="w" x="176" y="355" width="23" height="9"/><path class="h" d="M176 359.5h23"/><path class="t" d="M179.5 357.3h16"/></g>
<g id="n132"><rect class="w" x="207" y="355" width="28" height="9"/><path class="h" d="M207 359.5h28"/><path class="t" d="M211.2 357.3h19.6"/></g>
<g id="n133"><rect class="w" x="200" y="375" width="18" height="12"/><path class="h" d="M200 379.5h18M200 384h18"/><path class="t" d="M202.7 377.3h12.6"/></g>
<g id="n134"><rect class="w" x="223" y="375" width="30" height="12"/><path class="h" d="M223 379.5h30M223 384h30"/><path class="t" d="M227.5 377.3h21"/></g>
<g id="n135"><rect class="w" x="195" y="395" width="52" height="12"/><path class="h" d="M195 399.5h52M195 404h52"/><path class="t" d="M202.8 397.3h36.4"/></g>
<g id="n136"><rect class="w" x="296" y="300" width="47" height="8"/><path class="h" d="M296 304.5h47"/><path class="t" d="M303 302.3h33"/></g>
<g id="n137"><rect class="w" x="387" y="300" width="21" height="7"/><path class="h" d="M387 304.5h21"/><path class="t" d="M390 302.3h15"/></g>
<g id="n138"><rect class="w" x="336" y="313" width="23" height="17"/><path class="h" d="M336 317.5h23M336 327h23"/><path class="t" d="M339.5 315.3h16"/><path class="r" d="M338 320h16M338 323h14"/></g>
<g id="n139"><rect class="w" x="257" y="333" width="29" height="12"/><path class="h" d="M257 337.5h29M257 342h29"/><path class="t" d="M261.4 335.3h20.3"/></g>
<g id="n140"><rect class="w" x="289" y="333" width="40" height="12"/><path class="h" d="M289 337.5h40M289 342h40"/><path class="t" d="M295 335.3h28"/></g>
<g id="n141"><rect class="w" x="394" y="320" width="17" height="7"/><path class="h" d="M394 324.5h17"/><path class="t" d="M396.6 322.3h11.9"/></g>
<g id="n142"><rect class="w" x="417" y="320" width="18" height="7"/><path class="h" d="M417 324.5h18"/><path class="t" d="M419.7 322.3h12.6"/></g>
<g id="n143"><rect class="w" x="443" y="314" width="19" height="13"/><path class="h" d="M443 318.5h19M443 324h19"/><path class="t" d="M445.9 316.3h13.3"/></g>
<g id="n144"><rect class="w" x="470" y="314" width="18" height="13"/><path class="h" d="M470 318.5h18M470 324h18"/><path class="t" d="M472.7 316.3h12.6"/></g>
<g id="n145"><rect class="c" x="497" y="314" width="16" height="12"/><path class="h" d="M497 318.5h16M497 323h16"/><path class="t" d="M499.4 316.3h11.2"/></g>
<g id="n146"><rect class="w" x="258" y="352" width="27" height="13"/><path class="h" d="M258 356.5h27M258 362h27"/><path class="t" d="M262 354.3h19"/></g>
<g id="n147"><rect class="w" x="287" y="353" width="30" height="12"/><path class="h" d="M287 357.5h30M287 362h30"/><path class="t" d="M291.5 355.3h21"/></g>
<g id="n148"><rect class="w" x="328" y="347" width="24" height="13"/><path class="h" d="M328 351.5h24M328 357h24"/><path class="t" d="M331.6 349.3h16.8"/></g>
<g id="n149"><rect class="w" x="363" y="343" width="32" height="6"/><path class="t" d="M367.8 346h22.4"/></g>
<g id="n150"><rect class="c" x="417" y="337" width="19" height="11"/><path class="h" d="M417 341.5h19M417 345h19"/><path class="t" d="M419.9 339.3h13.3"/></g>
<g id="n151"><rect class="w" x="463" y="337" width="17" height="13"/><path class="h" d="M463 341.5h17M463 347h17"/><path class="t" d="M465.6 339.3h11.9"/></g>
<g id="n152"><rect class="w" x="416" y="353" width="20" height="12"/><path class="h" d="M416 357.5h20M416 362h20"/><path class="t" d="M419 355.3h14"/></g>
<g id="n153"><rect class="w" x="489" y="337" width="16" height="12"/><path class="h" d="M489 341.5h16M489 346h16"/><path class="t" d="M491.4 339.3h11.2"/></g>
<g id="n154"><rect class="w" x="509" y="337" width="16" height="12"/><path class="h" d="M509 341.5h16M509 346h16"/><path class="t" d="M511.4 339.3h11.2"/></g>
<g id="n155"><rect class="w" x="323" y="363" width="33" height="13"/><path class="h" d="M323 367.5h33M323 373h33"/><path class="t" d="M328 365.3h23"/></g>
<g id="n156"><rect class="w" x="363" y="363" width="31" height="13"/><path class="h" d="M363 367.5h31M363 373h31"/><path class="t" d="M367.6 365.3h21.7"/></g>
<g id="n157"><rect class="w" x="289" y="382" width="22" height="11"/><path class="h" d="M289 386.5h22M289 390h22"/><path class="t" d="M292.3 384.3h15.4"/></g>
<g id="n158"><rect class="c" x="417" y="373" width="19" height="12"/><path class="h" d="M417 377.5h19M417 382h19"/><path class="t" d="M419.9 375.3h13.3"/></g>
<g id="n159"><rect class="w" x="437" y="373" width="19" height="12"/><path class="h" d="M437 377.5h19M437 382h19"/><path class="t" d="M439.9 375.3h13.3"/></g>
<g id="n160"><rect class="w" x="458" y="373" width="39" height="12"/><path class="h" d="M458 377.5h39M458 382h39"/><path class="t" d="M463.9 375.3h27.3"/></g>
<g id="n161"><rect class="w" x="500" y="359" width="20" height="11"/><path class="h" d="M500 363.5h20M500 367h20"/><path class="t" d="M503 361.3h14"/></g>
<g id="n162"><rect class="w" x="465" y="359" width="32" height="11"/><path class="h" d="M465 363.5h32M465 367h32"/><path class="t" d="M469.8 361.3h22.4"/></g>
<g id="n163"><rect class="w" x="512" y="373" width="26" height="12"/><path class="h" d="M512 377.5h26M512 382h26"/><path class="t" d="M515.9 375.3h18.2"/></g>
<g id="n164"><rect class="w" x="377" y="385" width="25" height="12"/><path class="h" d="M377 389.5h25M377 394h25"/><path class="t" d="M380.8 387.3h17.5"/></g>
<g id="n165"><rect class="w" x="416" y="394" width="18" height="12"/><path class="h" d="M416 398.5h18M416 403h18"/><path class="t" d="M418.7 396.3h12.6"/></g>
<g id="n166"><rect class="w" x="436" y="394" width="19" height="12"/><path class="h" d="M436 398.5h19M436 403h19"/><path class="t" d="M438.9 396.3h13.3"/></g>
<g id="n167"><rect class="w" x="457" y="394" width="45" height="12"/><path class="h" d="M457 398.5h45M457 403h45"/><path class="t" d="M463.8 396.3h31.5"/></g>
<g id="n168"><rect class="w" x="513" y="393" width="20" height="12"/><path class="h" d="M513 397.5h20M513 402h20"/><path class="t" d="M516 395.3h14"/></g>
<g id="n169"><rect class="w" x="535" y="393" width="27" height="12"/><path class="h" d="M535 397.5h27M535 402h27"/><path class="t" d="M539 395.3h19"/></g>
<g id="n170"><rect class="w" x="323" y="399" width="34" height="13"/><path class="h" d="M323 403.5h34M323 409h34"/><path class="t" d="M328 401.3h24"/></g>
<g id="n171"><rect class="w" x="325" y="413" width="29" height="5"/><path class="t" d="M329.4 415.5h20.3"/></g>
<g id="n172"><rect class="w" x="363" y="420" width="22" height="5"/><path class="t" d="M366.3 422.5h15.4"/></g>
<g id="n173"><rect class="w" x="327" y="428" width="25" height="11"/><path class="h" d="M327 432.5h25M327 436h25"/><path class="t" d="M330.8 430.3h17.5"/></g>
<g id="n174"><rect class="w" x="468" y="415" width="23" height="12"/><path class="h" d="M468 419.5h23M468 424h23"/><path class="t" d="M471.5 417.3h16"/></g>
<g id="n175"><rect class="w" x="492" y="415" width="21" height="12"/><path class="h" d="M492 419.5h21M492 424h21"/><path class="t" d="M495 417.3h15"/></g>
<g id="n176"><rect class="w" x="523" y="415" width="20" height="12"/><path class="h" d="M523 419.5h20M523 424h20"/><path class="t" d="M526 417.3h14"/></g>
<g id="n177"><rect class="w" x="545" y="415" width="17" height="12"/><path class="h" d="M545 419.5h17M545 424h17"/><path class="t" d="M547.6 417.3h11.9"/></g>
<g id="n178"><rect class="w" x="545" y="433" width="17" height="14"/><path class="h" d="M545 437.5h17M545 444h17"/><path class="t" d="M547.6 435.3h11.9"/></g>
<g id="n179"><rect class="c" x="584" y="435" width="15" height="12"/><path class="h" d="M584 439.5h15"/><path class="t" d="M586 437.3h11"/></g>
<g id="n180"><path class="r" d="M606 441h75"/></g>
<g id="n181"><rect class="w" x="687" y="434" width="23" height="5"/><path class="t" d="M690 436.5h17"/></g>

<!-- right package -->
<g id="r1"><rect class="w" x="592" y="260" width="16" height="18"/><path class="h" d="M592 266h16"/><path class="t" d="M594.4 262.3h11.2M594.4 264.5h11.2"/><path class="r" d="M594 270h8M594 273h10"/></g>
<g id="r2"><rect class="w" x="616" y="263" width="17" height="11"/><path class="h" d="M616 269h17"/><path class="t" d="M618.6 265.3h11.9M621 267.3h7"/></g>
<g id="r3"><rect class="c" x="649" y="263" width="15" height="11"/><path class="t" d="M651.3 266.5h10.5M652.5 269h8"/></g>
<g id="r4"><rect class="w" x="616" y="283" width="17" height="9"/><path class="h" d="M616 289h17"/><path class="t" d="M618.6 285h11.9M619 287h11"/></g>
<g id="r5"><rect class="c" x="649" y="283" width="20" height="9"/><path class="t" d="M652 286h14M651 288.5h16"/></g>
<g id="r6"><rect class="c" x="649" y="297" width="28" height="9"/><path class="t" d="M656 300h14M652 302.5h22"/></g>
<g id="r7"><rect class="w" x="614" y="302" width="20" height="8"/><path class="h" d="M614 307h20"/><path class="t" d="M617 304h14M617 306h14"/></g>
<g id="r8"><rect class="c" x="649" y="310" width="17" height="7"/><path class="t" d="M651.6 312.5h11.9M651.6 314.8h11.9"/></g>
<g id="r9"><rect class="c" x="613" y="323" width="21" height="10"/><path class="h" d="M613 329h21"/><path class="t" d="M617 325.5h13M615 327.5h17"/></g>
<g id="r10"><rect class="w" x="607" y="342" width="15" height="11"/><path class="t" d="M609 345h11M609 347.5h11"/></g>
<g id="r11"><rect class="w" x="625" y="342" width="17" height="11"/><path class="t" d="M627.5 345h12M627.5 347.5h12"/></g>
<g id="r12"><rect class="w" x="616" y="363" width="18" height="9"/><path class="h" d="M616 369h18"/><path class="t" d="M618.7 365h12.6M618.7 367.3h12.6"/></g>
<g id="r13"><rect class="p" x="650" y="328" width="22" height="14"/><path class="t" d="M654 331h14M652 333.5h18M652 336h18M652 338.5h12"/></g>
<g id="r14"><rect class="p" x="650" y="348" width="16" height="9"/><path class="t" d="M652.4 351h11.2M652.4 353.5h11.2"/></g>
<g id="r15"><rect class="p" x="650" y="365" width="16" height="9"/><path class="t" d="M652.4 368h11.2M652.4 370.5h11.2"/></g>
<g id="r16"><rect class="p" x="648" y="380" width="24" height="12"/><path class="t" d="M655 383.5h10M651 386h18"/></g>
<g id="r17"><rect class="y" x="688" y="329" width="16" height="10"/><path class="t" d="M690.4 332h11.2M690.4 334.5h11.2"/></g>
<g id="r18"><rect class="y" x="688" y="348" width="16" height="9"/><path class="t" d="M690.4 351h11.2M690.4 353.5h11.2"/></g>
<g id="r19"><rect class="y" x="688" y="365" width="16" height="10"/><path class="t" d="M690.4 368h11.2M690.4 370.5h11.2"/></g>
<g id="r20"><rect class="y" x="683" y="380" width="22" height="12"/><path class="t" d="M688 383.5h12M685 386h18"/></g>
<path class="lbl" d="M612 388h16"/>

<!-- title banner -->
<g id="banner">
<rect x="0" y="12" width="720" height="33" fill="#e36c0a"/>
<text x="7" y="35" font-family="Liberation Sans, Arial, sans-serif" font-size="20" font-weight="bold" fill="#fff">SOFTWARE:</text>
</g>
</svg>
